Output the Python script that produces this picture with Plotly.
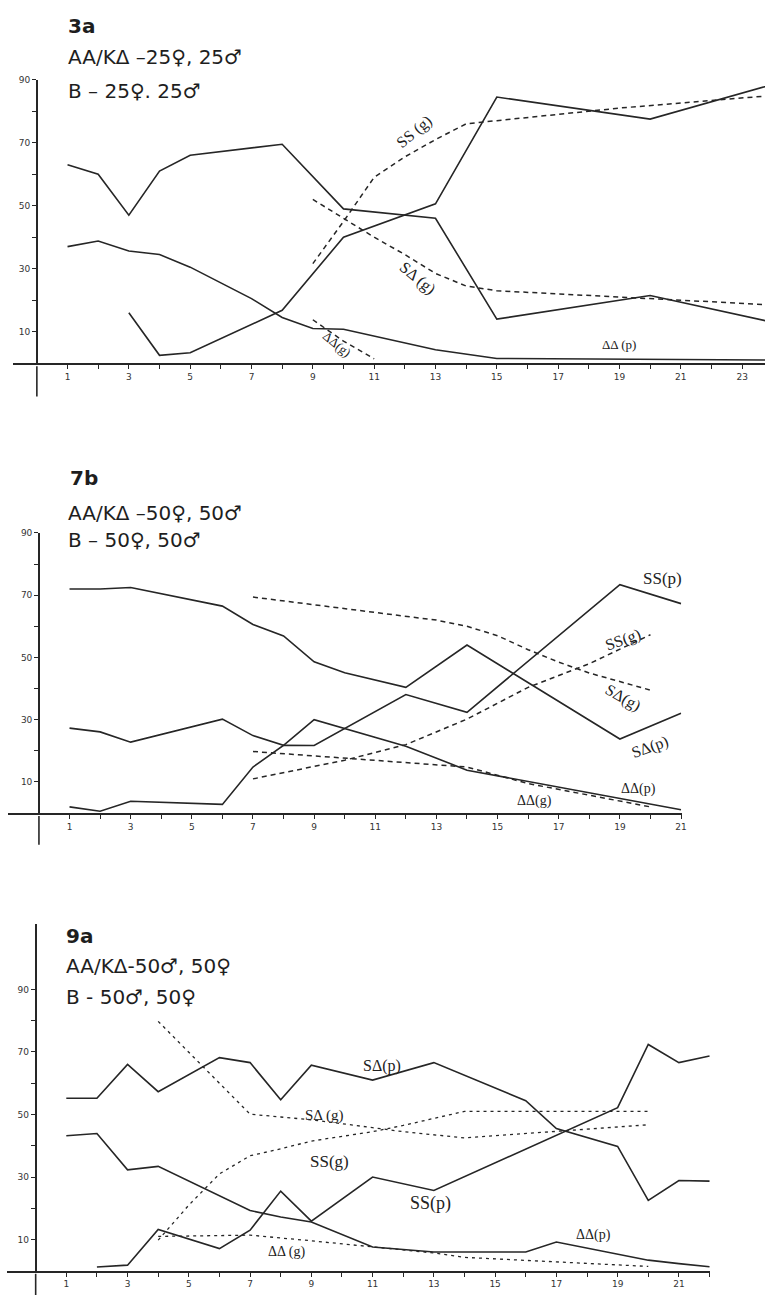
import plotly.graph_objects as go

W, H = 770, 1295

# ---------------- Panel 3a ----------------
p1_x_sap = [1, 2, 3, 4, 5, 8, 10, 13, 15, 20, 24]
p1_sap = [63, 60, 47, 61, 66, 69.5, 49, 46, 14, 21.5, 13]
p1_x_aap = [1, 2, 3, 4, 5, 6, 7, 8, 9, 10, 13, 15, 24]
p1_aap = [37, 38.8, 35.6, 34.5, 30.5, 25.5, 20.5, 14.5, 11, 10.8, 4.3, 1.5, 1]
p1_x_ssp = [3, 4, 5, 8, 10, 13, 15, 20, 24]
p1_ssp = [16, 2.5, 3.3, 16.8, 40, 50.6, 84.5, 77.5, 88.5]
p1_x_ssg = [9, 10, 11, 12, 13, 14, 15, 19, 24]
p1_ssg = [31.6, 45, 59, 65.5, 71, 76, 77, 81, 85]
p1_x_sag = [9, 10, 11, 12, 13, 14, 15, 24]
p1_sag = [52, 46, 40, 34.5, 28.5, 24.5, 23, 18.5]
p1_x_aag = [9, 10, 11]
p1_aag = [13.8, 7, 1.4]

# ---------------- Panel 7b ----------------
p2_x_sap = [1, 2, 3, 4, 5, 6, 7, 8, 9, 10, 12, 14, 19, 21]
p2_sap = [72, 72, 72.5, 70.5, 68.5, 66.5, 60.6, 56.9, 48.6, 45.1, 40.4, 54, 23.8, 32.1]
p2_x_ssp = [1, 2, 3, 6, 7, 8, 9, 12, 14, 19, 21]
p2_ssp = [2, 0.6, 3.8, 2.8, 14.8, 21.8, 21.7, 38.1, 32.4, 73.4, 67.3]
p2_x_aap = [1, 2, 3, 6, 7, 8, 9, 12, 14, 21]
p2_aap = [27.3, 26.1, 22.8, 30.2, 24.9, 21.8, 30, 21.5, 13.8, 1.1]
p2_x_sag = [7, 11, 13, 14, 15, 16, 17, 18, 20]
p2_sag = [69.4, 64.5, 62, 60, 57, 52.5, 48.5, 45, 39.5]
p2_x_ssg = [7, 9, 10, 11, 12, 14, 16, 18, 20]
p2_ssg = [11, 15, 17, 19.5, 22, 30.2, 40.4, 48, 57.3]
p2_x_aag = [7, 11, 14, 16, 20]
p2_aag = [19.8, 17, 14.8, 9.5, 2]

# ---------------- Panel 9a ----------------
p3_x_sap = [1, 2, 3, 4, 6, 7, 8, 9, 11, 13, 16, 17, 19, 20, 21, 22]
p3_sap = [55.2, 55.2, 66, 57.3, 68.2, 66.6, 54.7, 65.8, 61, 66.6, 54.4, 45.5, 39.8, 22.5, 28.9, 28.7]
p3_x_ssp = [2, 3, 4, 6, 7, 8, 9, 11, 13, 19, 20, 21, 22]
p3_ssp = [1.2, 1.8, 13.2, 7.1, 13, 25.5, 15.9, 30, 25.7, 52.2, 72.4, 66.6, 68.7]
p3_x_aap = [1, 2, 3, 4, 7, 8, 9, 11, 13, 16, 17, 20, 21, 22]
p3_aap = [43.2, 43.9, 32.3, 33.4, 19.3, 17.2, 15.6, 7.6, 6, 6, 9.2, 3.4, 2.3, 1.3]
p3_x_sag = [4, 7, 8, 9, 11, 12, 14, 20]
p3_sag = [79.8, 50.1, 49.2, 48.3, 45.8, 44.5, 42.5, 46.7]
p3_x_ssg = [4, 5, 6, 7, 8, 9, 11, 12, 14, 20]
p3_ssg = [9.8, 21, 31, 36.8, 39, 41.5, 44.5, 46.5, 51, 51]
p3_x_aag = [4, 7, 9, 11, 13, 14, 20]
p3_aag = [11, 11.4, 9.6, 7.6, 5.7, 4.3, 1.4]

# tick labels
y_tickvals = [10, 20, 30, 40, 50, 60, 70, 80, 90]
y_ticktext = ["10", "", "30", "", "50", "", "70", "", "90"]

INK = "#262626"
SOLID = dict(color=INK, width=1.6)
DASH = dict(color=INK, width=1.5, dash="5px,4px")
DOT = dict(color=INK, width=1.3, dash="3px,4px")


def px_x(p):
    return p / W


def px_y(p):
    return 1 - p / H


fig = go.Figure()

panels = [
    ("", [(p1_x_sap, p1_sap, SOLID), (p1_x_aap, p1_aap, SOLID), (p1_x_ssp, p1_ssp, SOLID),
          (p1_x_ssg, p1_ssg, DASH), (p1_x_sag, p1_sag, DASH), (p1_x_aag, p1_aag, DASH)]),
    ("2", [(p2_x_sap, p2_sap, SOLID), (p2_x_ssp, p2_ssp, SOLID), (p2_x_aap, p2_aap, SOLID),
           (p2_x_sag, p2_sag, DASH), (p2_x_ssg, p2_ssg, DASH), (p2_x_aag, p2_aag, DASH)]),
    ("3", [(p3_x_sap, p3_sap, SOLID), (p3_x_ssp, p3_ssp, SOLID), (p3_x_aap, p3_aap, SOLID),
           (p3_x_sag, p3_sag, DOT), (p3_x_ssg, p3_ssg, DOT), (p3_x_aag, p3_aag, DOT)]),
]

for suf, series in panels:
    for xs, ys, ln in series:
        fig.add_trace(go.Scatter(x=xs, y=ys, mode="lines", line=ln,
                                 xaxis="x" + suf, yaxis="y" + suf,
                                 showlegend=False, hoverinfo="skip"))

geo = {
    "": dict(x0=37.1, ux=30.864, xl=13, xr=770, y0=359.6, uy=3.1625, ytop=75, ymax=90, nx=23, ybot=393),
    "2": dict(x0=39.2, ux=30.775, xl=8, xr=686, y0=811.25, uy=3.125, ytop=530, ymax=90, nx=21, ybot=843),
    "3": dict(x0=35.9, ux=30.83, xl=7, xr=715, y0=1270.7, uy=3.1375, ytop=923, ymax=110.8, nx=22, ybot=1295),
}

tickfont = dict(family="DejaVu Sans", size=9, color="#333")
layout = dict(width=W, height=H, autosize=False,
              margin=dict(l=0, r=0, t=0, b=0),
              paper_bgcolor="white", plot_bgcolor="white", showlegend=False)

shapes = []
for suf, g in geo.items():
    xa = "xaxis" + suf
    ya = "yaxis" + suf
    xt = list(range(1, g["nx"] + 1))
    layout[xa] = dict(domain=[px_x(g["xl"]), px_x(g["xr"])],
                      range=[(g["xl"] - g["x0"]) / g["ux"], (g["xr"] - g["x0"]) / g["ux"]],
                      anchor="y" + suf, showline=True, linecolor=INK, linewidth=1.6,
                      ticks="outside", ticklen=4, tickwidth=1.2, tickcolor=INK,
                      tickvals=xt, ticktext=[str(v) if v % 2 == 1 else "" for v in xt],
                      tickfont=tickfont, showgrid=False, zeroline=False, fixedrange=True)
    layout[ya] = dict(domain=[px_y(g["y0"]), px_y(g["ytop"])],
                      range=[0, g["ymax"]], anchor="free", position=px_x(g["x0"]),
                      showline=True, linecolor=INK, linewidth=1.6,
                      ticks="outside", ticklen=4, tickwidth=1.2, tickcolor=INK,
                      tickvals=y_tickvals, ticktext=y_ticktext, tickfont=tickfont,
                      showgrid=False, zeroline=False, fixedrange=True)
    shapes.append(dict(type="line", xref="paper", yref="paper",
                       x0=px_x(g["x0"]), x1=px_x(g["x0"]),
                       y0=px_y(g["y0"] + 3), y1=px_y(g["ybot"]),
                       line=dict(color=INK, width=1.6)))
layout["shapes"] = shapes

annotations = []
title_font = dict(family="DejaVu Sans", size=20, color="#1e1e1e")
head_font = dict(family="DejaVu Sans", size=20, color="#1e1e1e")


def title(text, xp, yp, bold=False):
    annotations.append(dict(text=("<b>%s</b>" % text) if bold else text,
                            xref="paper", yref="paper", x=px_x(xp), y=px_y(yp),
                            xanchor="left", yanchor="middle", showarrow=False,
                            font=head_font if bold else title_font))


title("3a", 66, 21, bold=True)
title("AA/KΔ –25♀, 25♂", 66, 52)
title("B – 25♀. 25♂", 66, 86)
title("7b", 68, 475, bold=True)
title("AA/KΔ –50♀, 50♂", 66, 510)
title("B – 50♀, 50♂", 66, 537)
title("9a", 64, 935, bold=True)
title("AA/KΔ-50♂, 50♀", 64, 965)
title("B - 50♂, 50♀", 64, 996)

lab_font = dict(family="Liberation Serif", size=15, color="#222")


def lab(text, suf, x, y, angle=0, size=15):
    f = dict(lab_font)
    f["size"] = size
    annotations.append(dict(text=text, xref="x" + suf, yref="y" + suf, x=x, y=y,
                            showarrow=False, textangle=angle, font=f))


# panel 3a labels
lab("SS (g)", "", 12.3, 73.5, -40, 16)
lab("SΔ (g)", "", 12.4, 27, 40, 16)
lab("ΔΔ (p)", "", 19.0, 5.8, 0, 13)
lab("ΔΔ(g)", "", 9.8, 6.0, 40, 13)
# panel 7b labels
lab("SS(p)", "2", 20.4, 75.5, 0, 17)
lab("SS(g)", "2", 19.1, 55.5, -20, 16)
lab("SΔ(g)", "2", 19.1, 37, 30, 16)
lab("SΔ(p)", "2", 20.0, 21.3, -20, 16)
lab("ΔΔ(p)", "2", 19.6, 7.8, 0, 14)
lab("ΔΔ(g)", "2", 16.2, 4.0, 0, 14)
# panel 9a labels
lab("SΔ(p)", "3", 11.3, 65.5, 0, 16)
lab("SΔ (g)", "3", 9.4, 49.8, 0, 15)
lab("SS(g)", "3", 9.6, 34.9, 0, 17)
lab("SS(p)", "3", 12.9, 21.4, 0, 18)
lab("ΔΔ(p)", "3", 18.2, 11.4, 0, 14)
lab("ΔΔ (g)", "3", 8.2, 6.1, 0, 14)

layout["annotations"] = annotations
fig.update_layout(**layout)
fig.write_html("out.html", config=dict(displayModeBar=False))
